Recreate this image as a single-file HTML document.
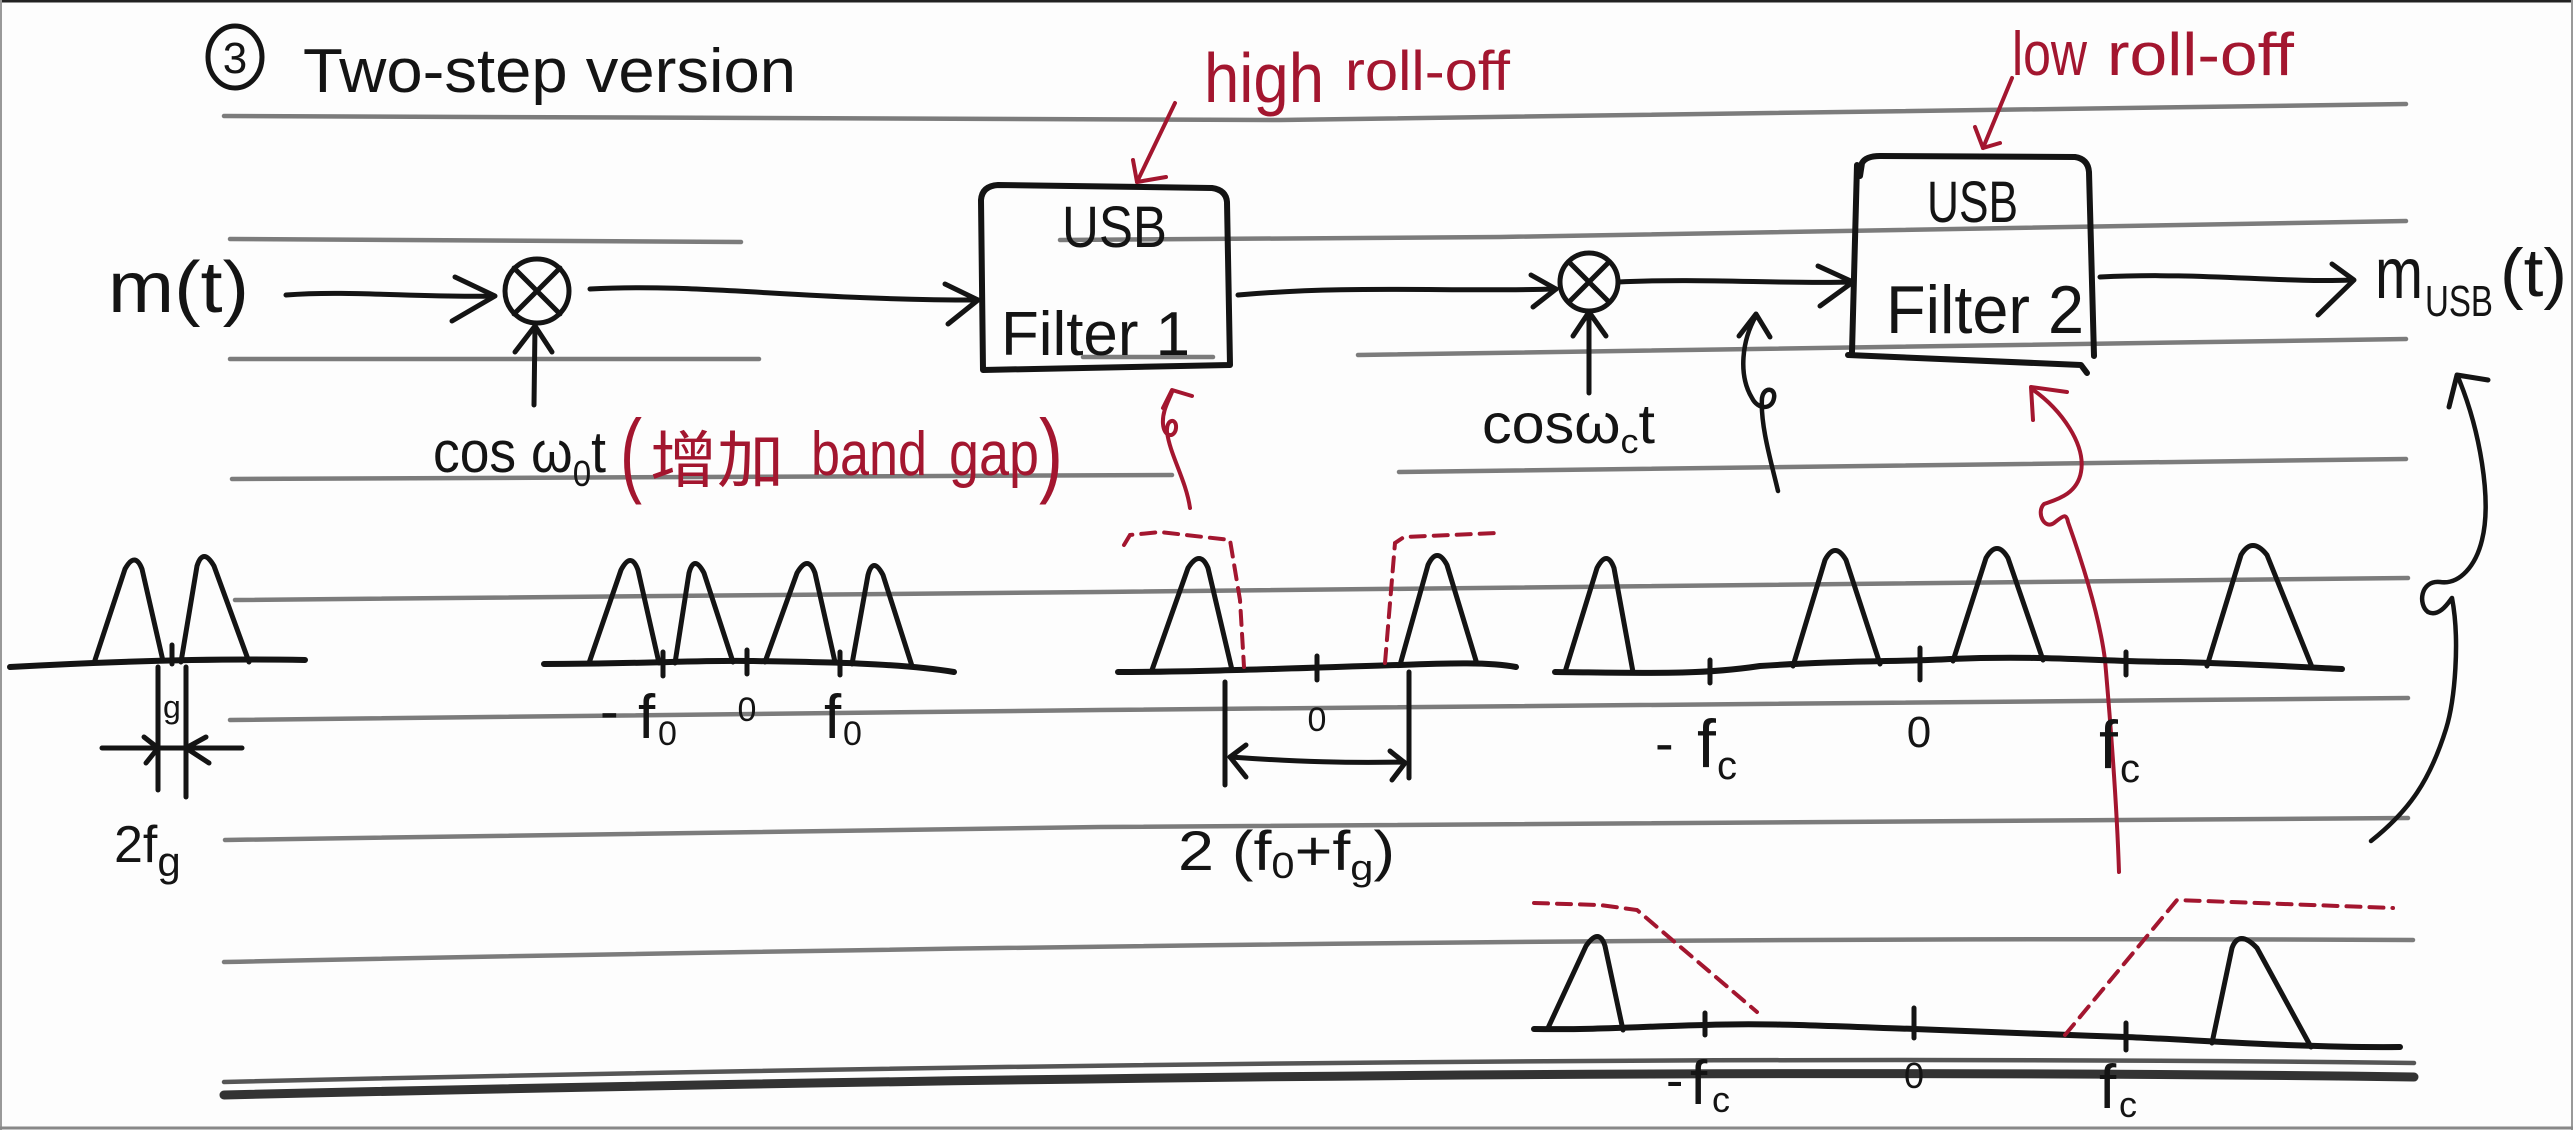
<!DOCTYPE html>
<html><head><meta charset="utf-8"><style>
html,body{margin:0;padding:0;background:#fdfdfd;}
svg{display:block;}
text{font-family:"Liberation Sans","Noto Sans CJK SC",sans-serif;}
</style></head><body>
<svg width="2573" height="1130" viewBox="0 0 2573 1130" xmlns="http://www.w3.org/2000/svg">
<rect x="0" y="0" width="2573" height="1130" fill="#fdfdfd"/>
<!-- border -->
<line x1="0" y1="1" x2="2573" y2="1" stroke="#222" stroke-width="3"/>
<line x1="1" y1="0" x2="1" y2="1130" stroke="#999" stroke-width="2"/>
<line x1="2572" y1="0" x2="2572" y2="1130" stroke="#999" stroke-width="2"/>
<line x1="0" y1="1128" x2="2573" y2="1128" stroke="#888" stroke-width="3"/>

<!-- ruled lines -->
<g fill="none" stroke="#7c7c7c" stroke-width="4.5" stroke-linecap="round">
<polyline points="224,116 1280,120 2406,104"/>
<polyline points="230,239 741,242"/>
<polyline points="1060,240 1500,237 2406,221"/>
<polyline points="230,359 759,359"/>
<polyline points="1083,357 1213,357"/>
<polyline points="1358,355 2406,339"/>
<polyline points="232,479 1172,475"/>
<polyline points="1399,472 2406,459"/>
<polyline points="235,600 1100,592 2408,578"/>
<polyline points="230,720 1100,710 2408,698"/>
<polyline points="225,840 1100,827 2408,818"/>
<path d="M224,962 Q1500,935 2413,940"/>
<path d="M224,1082 Q1500,1052 2414,1063" stroke="#555" stroke-width="4.5"/>
<path d="M224,1095 Q1500,1065 2414,1077" stroke="#333" stroke-width="9"/>
</g>

<!-- title -->
<g fill="none" stroke="#141414" stroke-width="5">
<ellipse cx="235" cy="57" rx="27" ry="31"/>
</g>
<text x="235" y="73" font-size="44" text-anchor="middle" fill="#141414">3</text>
<text x="303" y="92" font-size="62" fill="#141414" textLength="493" lengthAdjust="spacingAndGlyphs">Two-step version</text>

<!-- black block diagram -->
<g fill="none" stroke="#141414" stroke-width="5" stroke-linecap="round" stroke-linejoin="round">
<path d="M286,295 C350,290 420,298 494,296"/>
<path d="M455,277 L495,296 L452,321"/>
<circle cx="537" cy="291" r="32"/>
<path d="M514,268 L560,314 M560,268 L514,314"/>
<path d="M534,405 L535,326"/>
<path d="M515,352 L535,326 L552,352"/>
<path d="M590,289 C700,283 800,300 978,300"/>
<path d="M945,284 L978,300 L948,324"/>
<path d="M983,370 L981,200 Q982,186 998,185 L1212,188 Q1226,190 1227,202 L1230,365 L983,370" stroke-width="6"/>
<path d="M1238,295 C1350,285 1450,292 1556,289"/>
<path d="M1531,275 L1556,289 L1533,307"/>
<circle cx="1589" cy="282" r="29"/>
<path d="M1569,262 L1609,302 M1609,262 L1569,302"/>
<path d="M1589,393 L1589,312"/>
<path d="M1573,336 L1589,312 L1606,336"/>
<path d="M1618,282 C1700,278 1780,284 1853,282"/>
<path d="M1818,266 L1853,282 L1820,306"/>
<path d="M1860,176 L1862,163 Q1866,156 1880,156 L2075,157 Q2088,159 2089,172 L2094,356" stroke-width="6"/>
<path d="M1857,165 L1852,352" stroke-width="6"/>
<path d="M1848,355 L2081,365 L2087,373" stroke-width="6"/>
<path d="M2100,277 C2200,272 2280,283 2352,280"/>
<path d="M2332,264 L2354,280 L2318,315"/>
<path d="M1739,336 L1756,314 L1770,337"/>
<path d="M1756,316 C1742,340 1738,375 1752,398 C1758,410 1772,410 1774,398 C1776,388 1764,386 1762,398 C1760,425 1772,465 1778,491" stroke-width="4.5"/>
<path d="M2488,380 L2457,375 L2449,407"/>
<path d="M2458,377 C2480,430 2492,500 2482,540 C2476,565 2460,585 2440,582 C2420,580 2418,605 2428,612 C2440,618 2450,600 2452,598 C2460,640 2455,700 2446,729 C2430,780 2410,810 2371,841" stroke-width="4.5"/>
</g>

<!-- black labels -->
<g fill="#141414">
<text x="108" y="312" font-size="72" textLength="141" lengthAdjust="spacingAndGlyphs">m(t)</text>
<text x="1062" y="247" font-size="58" textLength="105" lengthAdjust="spacingAndGlyphs">USB</text>
<text x="1001" y="355" font-size="62" textLength="189" lengthAdjust="spacingAndGlyphs">Filter 1</text>
<text x="1927" y="222" font-size="58" textLength="91" lengthAdjust="spacingAndGlyphs">USB</text>
<text x="1886" y="333" font-size="68" textLength="198" lengthAdjust="spacingAndGlyphs">Filter 2</text>
<text x="433" y="472" font-size="58" textLength="173" lengthAdjust="spacingAndGlyphs">cos ω<tspan font-size="36" dy="14">0</tspan><tspan dy="-14">t</tspan></text>
<text x="1482" y="443" font-size="56" textLength="173" lengthAdjust="spacingAndGlyphs">cosω<tspan font-size="34" dy="10">c</tspan><tspan dy="-10">t</tspan></text>
<text x="2375" y="298" font-size="72" textLength="48" lengthAdjust="spacingAndGlyphs">m</text>
<text x="2425" y="316" font-size="44" textLength="68" lengthAdjust="spacingAndGlyphs">USB</text>
<text x="2500" y="296" font-size="68" textLength="67" lengthAdjust="spacingAndGlyphs">(t)</text>
</g>

<!-- red annotations -->
<g fill="none" stroke="#a3162f" stroke-width="4" stroke-linecap="round" stroke-linejoin="round">
<path d="M1175,103 L1137,182"/>
<path d="M1133,160 L1137,182 L1166,177"/>
<path d="M2012,78 L1983,148"/>
<path d="M1975,127 L1983,148 L2000,143"/>
<path d="M1163,408 L1172,390 L1192,396"/>
<path d="M1172,392 C1168,402 1162,412 1163,424 C1164,438 1175,438 1176,428 C1177,418 1166,418 1167,432 C1170,455 1186,480 1190,508"/>
<path d="M2067,392 L2031,387 L2033,420"/>
<path d="M2032,389 C2062,410 2086,445 2081,472 C2077,495 2055,500 2044,504 C2036,512 2044,530 2054,523 C2062,517 2066,512 2068,522 C2085,570 2100,620 2105,660 C2112,740 2117,810 2119,872"/>
</g>
<g fill="#a3162f">
<text x="1204" y="102" font-size="70" textLength="120" lengthAdjust="spacingAndGlyphs">high</text>
<text x="1345" y="90" font-size="56" textLength="165" lengthAdjust="spacingAndGlyphs">roll-off</text>
<text x="2012" y="75" font-size="62" textLength="75" lengthAdjust="spacingAndGlyphs">low</text>
<text x="2107" y="75" font-size="60" textLength="187" lengthAdjust="spacingAndGlyphs">roll-off</text>
<text x="620" y="485" font-size="94" textLength="22" lengthAdjust="spacingAndGlyphs">(</text>
<text x="650" y="482" font-size="62" textLength="134" lengthAdjust="spacingAndGlyphs">增加</text>
<text x="811" y="475" font-size="62" textLength="116" lengthAdjust="spacingAndGlyphs">band</text>
<text x="949" y="475" font-size="62" textLength="90" lengthAdjust="spacingAndGlyphs">gap</text>
<text x="1039" y="485" font-size="94" textLength="24" lengthAdjust="spacingAndGlyphs">)</text>
</g>

<!-- spectra -->
<g fill="none" stroke="#141414" stroke-width="5" stroke-linecap="round" stroke-linejoin="round">
<path d="M10,667 C100,662 200,658 305,660" stroke-width="6"/>
<path d="M95,660 L125,569 Q135,551 142,569 L163,661"/>
<path d="M181,662 L197,566 Q203,547 214,566 L249,662"/>
<path d="M172,645 L172,664"/>
<path d="M158,667 L158,790"/>
<path d="M186,667 L186,797"/>
<path d="M102,748 L242,748"/>
<path d="M144,737 L158,748 L146,763"/>
<path d="M206,737 L186,748 L209,763"/>
<path d="M544,664 C640,664 700,660 750,661 C820,662 900,663 954,672" stroke-width="6"/>
<path d="M589,663 L621,570 Q631,551 638,570 L659,663"/>
<path d="M675,663 L689,573 Q694,554 704,573 L733,662"/>
<path d="M765,662 L797,573 Q808,554 815,573 L835,662"/>
<path d="M852,664 L868,575 Q873,556 883,575 L912,666"/>
<path d="M663,652 L663,676 M747,650 L747,674 M840,652 L840,675"/>
<path d="M1118,672 C1200,672 1300,668 1400,665 C1450,663 1490,662 1516,667" stroke-width="6"/>
<path d="M1152,670 L1188,568 Q1200,549 1208,568 L1232,670"/>
<path d="M1400,665 L1428,565 Q1437,546 1447,565 L1477,664"/>
<path d="M1317,656 L1317,680"/>
<path d="M1225,682 L1225,785"/>
<path d="M1409,672 L1409,778"/>
<path d="M1230,757 C1300,762 1350,763 1404,762"/>
<path d="M1246,745 L1230,757 L1246,777"/>
<path d="M1390,751 L1405,763 L1392,780"/>
<path d="M1555,672 C1650,673 1700,675 1760,666 C1850,660 1900,662 1950,659 C2050,655 2100,662 2180,662 C2250,664 2300,667 2342,669" stroke-width="6"/>
<path d="M1565,672 L1597,568 Q1607,549 1614,568 L1633,672"/>
<path d="M1793,666 L1825,560 Q1835,541 1846,560 L1880,664"/>
<path d="M1953,661 L1986,558 Q1997,539 2008,558 L2043,660"/>
<path d="M2207,666 L2241,555 Q2252,536 2267,555 L2312,667"/>
<path d="M1710,660 L1710,683 M1920,648 L1920,680 M2126,652 L2126,675"/>
<path d="M1534,1029 C1600,1030 1650,1026 1705,1025 C1760,1023 1800,1025 1914,1029 C2000,1032 2060,1035 2126,1037 C2200,1040 2300,1048 2400,1047" stroke-width="6"/>
<path d="M1548,1028 L1586,946 Q1599,927 1605,946 L1623,1030"/>
<path d="M2212,1043 L2232,948 Q2239,929 2257,948 L2311,1047"/>
<path d="M1705,1013 L1705,1035 M1914,1008 L1914,1038 M2126,1023 L2126,1050"/>
</g>

<!-- red dashed filters -->
<g fill="none" stroke="#a3162f" stroke-width="4" stroke-linecap="round" stroke-dasharray="14 9">
<path d="M1124,545 L1130,535 L1160,532 L1230,540 L1240,600 L1244,667"/>
<path d="M1385,663 L1395,543 L1404,537 L1497,533"/>
<path d="M1534,903 L1600,905 L1637,910 L1757,1012"/>
<path d="M2065,1035 L2177,900 L2393,908"/>
</g>

<!-- spectrum labels -->
<g fill="#141414">
<text x="163" y="718" font-size="32">g</text>
<text x="114" y="862" font-size="52">2f<tspan font-size="42" dy="14">g</tspan></text>
<text x="600" y="730" font-size="56">-</text>
<text x="638" y="738" font-size="62">f</text>
<text x="658" y="745" font-size="34">0</text>
<text x="747" y="721" font-size="34" text-anchor="middle">0</text>
<text x="824" y="738" font-size="62">f</text>
<text x="843" y="745" font-size="34">0</text>
<text x="1317" y="731" font-size="34" text-anchor="middle">0</text>
<text x="1178" y="870" font-size="56" textLength="217" lengthAdjust="spacingAndGlyphs">2 (f<tspan font-size="36" dy="8">0</tspan><tspan dy="-8">+f</tspan><tspan font-size="36" dy="10">g</tspan><tspan dy="-10">)</tspan></text>
<text x="1655" y="762" font-size="56">-</text>
<text x="1697" y="767" font-size="68">f</text>
<text x="1717" y="779" font-size="40">c</text>
<text x="1919" y="747" font-size="44" text-anchor="middle">0</text>
<text x="2099" y="768" font-size="68">f</text>
<text x="2120" y="782" font-size="40">c</text>
<text x="1666" y="1098" font-size="52">-</text>
<text x="1690" y="1104" font-size="62">f</text>
<text x="1712" y="1112" font-size="36">c</text>
<text x="1914" y="1088" font-size="36" text-anchor="middle">0</text>
<text x="2099" y="1108" font-size="62">f</text>
<text x="2119" y="1117" font-size="36">c</text>
</g>
</svg>
</body></html>
